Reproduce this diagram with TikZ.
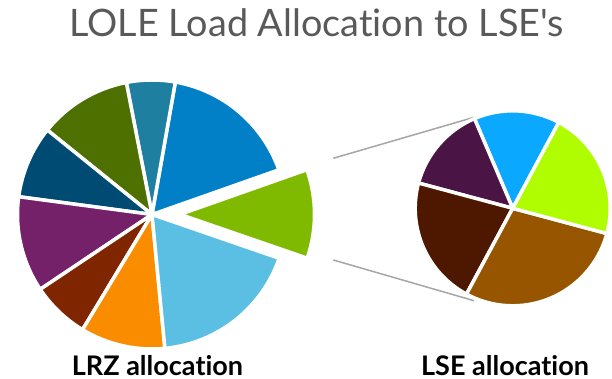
\documentclass[tikz,border=0pt]{standalone}
\usepackage{fontspec}
\usetikzlibrary{calc}
\setmainfont{Lato}[Ligatures={TeXOff,NoCommon}]
\definecolor{titlegray}{HTML}{595959}
\definecolor{linkgray}{HTML}{A6A6A6}
% zone (LRZ) colours
\definecolor{czBlue}{HTML}{0180C8}
\definecolor{czTeal}{HTML}{1E7FA0}
\definecolor{czOlive}{HTML}{4E7000}
\definecolor{czNavy}{HTML}{004B74}
\definecolor{czPurple}{HTML}{75216A}
\definecolor{czRust}{HTML}{7F2500}
\definecolor{czOrange}{HTML}{FA8C00}
\definecolor{czSky}{HTML}{5BBFE3}
\definecolor{czGreen}{HTML}{80BA00}
% LSE colours
\definecolor{csSky}{HTML}{0AA9FF}
\definecolor{csLime}{HTML}{AFFD00}
\definecolor{csBrown}{HTML}{975500}
\definecolor{csDark}{HTML}{4E1800}
\definecolor{csPlum}{HTML}{4A1545}
% one pie wedge: centre, radius, start angle, end angle, colour
\newcommand\pieWedge[5]{%
  \filldraw[wedge,fill=#5] (#1) -- ++(#3:#2) arc[start angle=#3,end angle=#4,radius=#2] -- cycle;}
\tikzset{
  wedge/.style={draw=white,line width=3.5pt,line join=round},
  link/.style={draw=linkgray,line width=1.5pt},
  titletext/.style={text=titlegray,font=\fontsize{37.8}{42}\selectfont,anchor=base,inner sep=0pt},
  captext/.style={text=black,font=\bfseries\fontsize{27}{30}\selectfont,anchor=base,inner sep=0pt}
}
\begin{document}
\begin{tikzpicture}[x=1pt,y=1pt]
  \useasboundingbox (0,0) rectangle (612,379);
  \coordinate (zoneC) at (152,164.5);
  \coordinate (lseC) at (512.7,170.7);
  \coordinate (cutC) at ($(zoneC)+(0.2:28)$);

  % connector lines from the cut wedge to the LSE pie
  \coordinate (linkTopA) at (333.3,220.7);
  \coordinate (linkBotA) at (333.3,119);
  \coordinate (linkTopB) at (474,261.7);
  \coordinate (linkBotB) at (474,78.3);
  \draw[link] (linkTopA) -- (linkTopB);
  \draw[link] (linkBotA) -- (linkBotB);

  % LRZ pie
  \pieWedge{zoneC}{134.5}{19.4}{80}{czBlue}
  \pieWedge{zoneC}{134.5}{80}{101}{czTeal}
  \pieWedge{zoneC}{134.5}{101}{141.1}{czOlive}
  \pieWedge{zoneC}{134.5}{141.1}{172.4}{czNavy}
  \pieWedge{zoneC}{134.5}{172.4}{213.8}{czPurple}
  \pieWedge{zoneC}{134.5}{213.8}{238.9}{czRust}
  \pieWedge{zoneC}{134.5}{238.9}{275.5}{czOrange}
  \pieWedge{zoneC}{134.5}{275.5}{341}{czSky}
  \pieWedge{cutC}{134.5}{-19}{19.4}{czGreen}

  % LSE pie
  \pieWedge{lseC}{97.5}{61.8}{113.1}{csSky}
  \pieWedge{lseC}{97.5}{113.1}{165}{csPlum}
  \pieWedge{lseC}{97.5}{165}{241.7}{csDark}
  \pieWedge{lseC}{97.5}{241.7}{345}{csBrown}
  \pieWedge{lseC}{97.5}{-15}{61.8}{csLime}

  % texts
  \node[titletext] (title) at (316.7,342.3) {LOLE Load Allocation to LSE's};
  \node[captext] (zoneCap) at (157.5,3.6) {LRZ allocation};
  \node[captext] (lseCap) at (505,3.6) {LSE allocation};
\end{tikzpicture}
\end{document}
